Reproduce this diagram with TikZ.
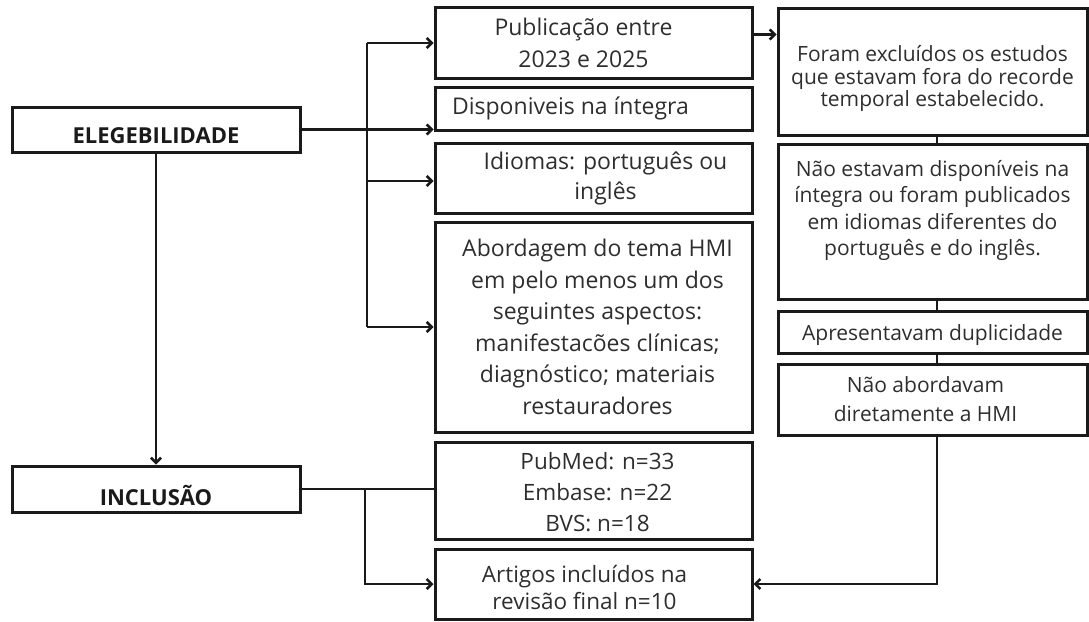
\documentclass[tikz,border=0pt]{standalone}
\usepackage{fontspec}
\setmainfont{Open Sans}
\usetikzlibrary{arrows.meta}
\definecolor{ink}{HTML}{1A1A1A}
\definecolor{txtc}{HTML}{2E2E2E}
\begin{document}
\begin{tikzpicture}[x=1pt,y=-1pt,
  box/.style={draw=ink,line width=3pt,inner sep=0pt,minimum width=317pt},
  rbox/.style={draw=ink,line width=3pt,inner sep=0pt,minimum width=309pt},
  lbox/.style={draw=ink,line width=3pt,inner sep=0pt,minimum width=288pt},
  txt/.style={text=txtc,align=center,inner sep=0pt},
  conn/.style={draw=ink,line width=2.6pt},
  arr/.style={conn,-{Straight Barb[length=5pt,width=10pt]}}]
\useasboundingbox (0,0) rectangle (1089,621);
% left labels
\node[lbox,minimum height=45pt] (eleg) at (156,129.5) {};
\node[txt,text=ink,font=\fontsize{22}{26}\selectfont\bfseries] (elegT) at ([yshift=-6pt]eleg.center) {ELEGEBILIDADE};
\node[lbox,minimum height=46pt] (incl) at (156,489) {};
\node[txt,text=ink,font=\fontsize{22}{26}\selectfont\bfseries] (inclT) at ([yshift=-6pt]incl.center) {INCLUSÃO};
% middle column
\node[box,minimum height=71pt] (pub) at (593.5,42.5) {};
\node[txt,font=\fontsize{23}{32}\selectfont] (pubT) at ([xshift=-10pt]pub.center) {Publicação entre\\2023 e 2025};
\node[box,minimum height=43pt] (disp) at (593.5,108.5) {};
\node[txt,font=\fontsize{23}{32}\selectfont] (dispT) at ([xshift=-23pt]disp.center) {Disponiveis na íntegra};
\node[box,minimum height=70pt] (idio) at (593.5,178) {};
\node[txt,font=\fontsize{23}{30}\selectfont] (idioT) at ([xshift=12pt]idio.center) {Idiomas: português ou\\inglês};
\node[box,minimum height=210pt] (abord) at (593.5,327) {};
\node[txt,font=\fontsize{23}{31.5}\selectfont] (abordT) at ([xshift=4pt]abord.center) {Abordagem do tema HMI\\em pelo menos um dos\\seguintes aspectos:\\manifestacões clínicas;\\diagnóstico; materiais\\restauradores};
\node[box,minimum height=97pt] (pubmed) at (593.5,490.5) {};
\node[txt,font=\fontsize{22.5}{31}\selectfont] (pubmedT) at ([xshift=4pt,yshift=-2pt]pubmed.center) {PubMed: n=33\\Embase: n=22\\BVS: n=18};
\node[box,minimum height=70pt] (art) at (593.5,584) {};
\node[txt,font=\fontsize{22.5}{27}\selectfont] (artT) at ([xshift=-9pt,yshift=-3pt]art.center) {Artigos incluídos na\\revisão final n=10};
% right column
\node[rbox,minimum height=127pt] (foram) at (932.5,71.5) {};
\node[txt,font=\fontsize{21}{22.5}\selectfont] (foramT) at ([yshift=-7pt]foram.center) {Foram excluídos os estudos\\que estavam fora do recorde\\temporal estabelecido.};
\node[rbox,minimum height=155pt] (nao) at (932.5,221.5) {};
\node[txt,font=\fontsize{21}{26.5}\selectfont] (naoT) at ([yshift=11pt]nao.center) {Não estavam disponíveis na\\íntegra ou foram publicados\\em idiomas diferentes do\\português e do inglês.};
\node[rbox,minimum height=42pt] (apres) at (932.5,332) {};
\node[txt,font=\fontsize{21}{26}\selectfont] (apresT) at ([yshift=-3pt]apres.center) {Apresentavam duplicidade};
\node[rbox,minimum height=71pt] (naoab) at (932.5,399.5) {};
\node[txt,font=\fontsize{21}{29}\selectfont] (naoabT) at ([xshift=-7pt]naoab.center) {Não abordavam\\diretamente a HMI};
% connectors
\coordinate (b1) at (367,43);
\coordinate (b2) at (367,327);
\coordinate (b3) at (367,181);
\draw[conn] (b1) -- (b2);
\draw[arr] (b1) -- (b1 -| pub.west);
\draw[arr] (b3) -- (b3 -| idio.west);
\draw[arr] (b2) -- (b2 -| abord.west);
\draw[arr] (eleg.east) -- (eleg.east -| disp.west);
\draw[arr] (eleg.south) -- (incl.north);
\draw[conn] (incl.east) -- (incl.east -| pubmed.west);
\coordinate (b4) at (365,489);
\draw[arr] (b4) |- (art.west);
\coordinate (pa) at ([yshift=8pt]pub.east);
\draw[arr] (pa) -- (pa -| foram.west);
\coordinate (c1) at (937,135);
\draw[conn] (c1 |- foram.south) -- (c1 |- nao.north);
\draw[conn] (c1 |- nao.south) -- (c1 |- apres.north);
\draw[conn] (c1 |- apres.south) -- (c1 |- naoab.north);
\draw[arr] (c1 |- naoab.south) |- (art.east);
\end{tikzpicture}
\end{document}
